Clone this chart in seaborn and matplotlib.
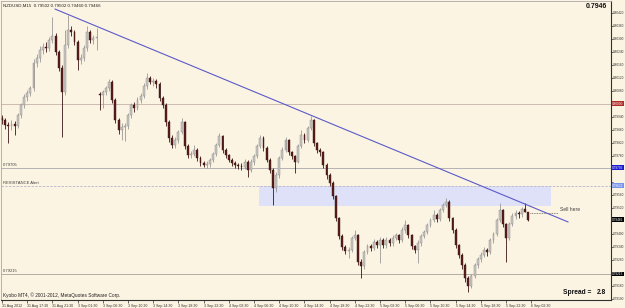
import matplotlib
matplotlib.use("Agg")
import matplotlib.pyplot as plt
import matplotlib.transforms as mtransforms
from matplotlib.patches import Rectangle
import numpy as np
import pandas as pd
import seaborn as sns

# ---------------- data ----------------
chart_title = "NZDUSD,M15  0.79502 0.79502 0.79460 0.79466"
copyright_text = "Kyobo MT4, \u00a9 2001-2012, MetaQuotes Software Corp."
bid_text = "0.7946"

open_ = [0.79935, 0.79926, 0.79902, 0.79898, 0.79907, 0.79900, 0.79949, 0.79995, 0.80032, 0.80050,
         0.80073, 0.80189, 0.80212, 0.80249, 0.80263, 0.80258, 0.80295, 0.80314, 0.80240, 0.80166,
         0.80055, 0.80272, 0.80341, 0.80330, 0.80286, 0.80203, 0.80212, 0.80258, 0.80332, 0.80295,
         0.80304, 0.80045, 0.80041, 0.80055, 0.80073, 0.80101, 0.80018, 0.79926, 0.79879, 0.79893,
         0.79898, 0.79949, 0.79995, 0.79981, 0.80018, 0.80036, 0.80083, 0.80120, 0.80101, 0.80105,
         0.80092, 0.80027, 0.79995, 0.79916, 0.79842, 0.79810, 0.79833, 0.79870, 0.79916, 0.79805,
         0.79764, 0.79770, 0.79787, 0.79750, 0.79727, 0.79718, 0.79722, 0.79741, 0.79769, 0.79810,
         0.79852, 0.79787, 0.79764, 0.79741, 0.79727, 0.79718, 0.79713, 0.79708, 0.79732, 0.79695,
         0.79732, 0.79759, 0.79805, 0.79842, 0.79796, 0.79741, 0.79695, 0.79611, 0.79671, 0.79750,
         0.79787, 0.79833, 0.79778, 0.79759, 0.79732, 0.79805, 0.79856, 0.79833, 0.79889, 0.79926,
         0.79819, 0.79787, 0.79778, 0.79718, 0.79671, 0.79635, 0.79574, 0.79473, 0.79390, 0.79339,
         0.79320, 0.79325, 0.79380, 0.79394, 0.79270, 0.79251, 0.79316, 0.79343, 0.79334, 0.79362,
         0.79348, 0.79371, 0.79348, 0.79371, 0.79357, 0.79380, 0.79394, 0.79371, 0.79417, 0.79440,
         0.79394, 0.79343, 0.79325, 0.79357, 0.79390, 0.79408, 0.79440, 0.79464, 0.79487, 0.79468,
         0.79510, 0.79533, 0.79547, 0.79473, 0.79417, 0.79348, 0.79302, 0.79256, 0.79196, 0.79159,
         0.79205, 0.79256, 0.79283, 0.79302, 0.79325, 0.79316, 0.79371, 0.79399, 0.79464, 0.79510,
         0.79445, 0.79380, 0.79445, 0.79482, 0.79496, 0.79491, 0.79514, 0.79502]

close = [0.79926, 0.79902, 0.79898, 0.79907, 0.79900, 0.79949, 0.79995, 0.80032, 0.80050, 0.80073,
         0.80189, 0.80212, 0.80249, 0.80263, 0.80258, 0.80295, 0.80314, 0.80240, 0.80166, 0.80055,
         0.80272, 0.80341, 0.80330, 0.80286, 0.80203, 0.80212, 0.80258, 0.80332, 0.80295, 0.80304,
         0.80310, 0.80041, 0.80055, 0.80073, 0.80101, 0.80018, 0.79926, 0.79879, 0.79893, 0.79898,
         0.79949, 0.79995, 0.79981, 0.80018, 0.80036, 0.80083, 0.80120, 0.80101, 0.80105, 0.80092,
         0.80027, 0.79995, 0.79916, 0.79842, 0.79810, 0.79833, 0.79870, 0.79916, 0.79805, 0.79764,
         0.79770, 0.79787, 0.79750, 0.79727, 0.79718, 0.79722, 0.79741, 0.79769, 0.79810, 0.79852,
         0.79787, 0.79764, 0.79741, 0.79727, 0.79718, 0.79713, 0.79708, 0.79732, 0.79695, 0.79732,
         0.79759, 0.79805, 0.79842, 0.79796, 0.79741, 0.79695, 0.79611, 0.79671, 0.79750, 0.79787,
         0.79833, 0.79778, 0.79759, 0.79732, 0.79805, 0.79856, 0.79833, 0.79889, 0.79926, 0.79819,
         0.79787, 0.79778, 0.79718, 0.79671, 0.79635, 0.79574, 0.79473, 0.79390, 0.79339, 0.79320,
         0.79325, 0.79380, 0.79394, 0.79270, 0.79251, 0.79316, 0.79343, 0.79334, 0.79362, 0.79348,
         0.79371, 0.79348, 0.79371, 0.79357, 0.79380, 0.79394, 0.79371, 0.79417, 0.79440, 0.79394,
         0.79343, 0.79325, 0.79357, 0.79390, 0.79408, 0.79440, 0.79464, 0.79487, 0.79468, 0.79510,
         0.79533, 0.79547, 0.79473, 0.79417, 0.79348, 0.79302, 0.79256, 0.79196, 0.79159, 0.79205,
         0.79256, 0.79283, 0.79302, 0.79325, 0.79316, 0.79371, 0.79399, 0.79464, 0.79510, 0.79445,
         0.79380, 0.79445, 0.79482, 0.79496, 0.79491, 0.79514, 0.79502, 0.79466]

high = [0.79950, 0.79935, 0.79915, 0.79925, 0.79920, 0.79960, 0.80005, 0.80045, 0.80065, 0.80085,
        0.80205, 0.80230, 0.80265, 0.80280, 0.80285, 0.80310, 0.80401, 0.80325, 0.80250, 0.80180,
        0.80341, 0.80411, 0.80360, 0.80340, 0.80295, 0.80230, 0.80270, 0.80360, 0.80340, 0.80320,
        0.80351, 0.80055, 0.80065, 0.80085, 0.80115, 0.80110, 0.80025, 0.79935, 0.79910, 0.79910,
        0.79960, 0.80005, 0.80010, 0.80030, 0.80050, 0.80095, 0.80143, 0.80130, 0.80120, 0.80115,
        0.80100, 0.80035, 0.80005, 0.79925, 0.79855, 0.79845, 0.79880, 0.79935, 0.79920, 0.79815,
        0.79785, 0.79810, 0.79795, 0.79760, 0.79738, 0.79735, 0.79750, 0.79780, 0.79820, 0.79866,
        0.79858, 0.79795, 0.79770, 0.79750, 0.79735, 0.79728, 0.79725, 0.79745, 0.79740, 0.79745,
        0.79770, 0.79815, 0.79856, 0.79850, 0.79805, 0.79750, 0.79705, 0.79685, 0.79760, 0.79800,
        0.79847, 0.79840, 0.79785, 0.79765, 0.79815, 0.79879, 0.79865, 0.79900, 0.79944, 0.79930,
        0.79825, 0.79795, 0.79785, 0.79725, 0.79680, 0.79645, 0.79580, 0.79480, 0.79400, 0.79350,
        0.79340, 0.79390, 0.79417, 0.79400, 0.79285, 0.79325, 0.79355, 0.79355, 0.79375, 0.79370,
        0.79385, 0.79380, 0.79385, 0.79380, 0.79395, 0.79405, 0.79400, 0.79430, 0.79464, 0.79445,
        0.79400, 0.79350, 0.79370, 0.79400, 0.79420, 0.79450, 0.79475, 0.79510, 0.79495, 0.79520,
        0.79545, 0.79565, 0.79555, 0.79480, 0.79425, 0.79355, 0.79310, 0.79265, 0.79205, 0.79215,
        0.79265, 0.79295, 0.79315, 0.79340, 0.79335, 0.79380, 0.79410, 0.79475, 0.79542, 0.79515,
        0.79450, 0.79455, 0.79495, 0.79510, 0.79505, 0.79525, 0.79542, 0.79502]

low = [0.79905, 0.79885, 0.79820, 0.79880, 0.79856, 0.79890, 0.79935, 0.79980, 0.80015, 0.80035,
       0.80060, 0.80170, 0.80195, 0.80230, 0.80240, 0.80245, 0.80280, 0.80225, 0.80150, 0.79847,
       0.80040, 0.80260, 0.80315, 0.80270, 0.80157, 0.80185, 0.80200, 0.80245, 0.80280, 0.80275,
       0.80249, 0.79972, 0.79981, 0.80040, 0.80060, 0.80005, 0.79910, 0.79860, 0.79833, 0.79829,
       0.79885, 0.79935, 0.79965, 0.79970, 0.80005, 0.80025, 0.80070, 0.80090, 0.80085, 0.80075,
       0.80015, 0.79980, 0.79900, 0.79825, 0.79795, 0.79798, 0.79820, 0.79860, 0.79790, 0.79750,
       0.79750, 0.79760, 0.79735, 0.79715, 0.79708, 0.79705, 0.79710, 0.79730, 0.79760, 0.79800,
       0.79775, 0.79750, 0.79730, 0.79715, 0.79705, 0.79700, 0.79695, 0.79700, 0.79662, 0.79685,
       0.79720, 0.79750, 0.79795, 0.79785, 0.79730, 0.79680, 0.79533, 0.79595, 0.79660, 0.79740,
       0.79780, 0.79765, 0.79745, 0.79681, 0.79725, 0.79795, 0.79820, 0.79825, 0.79880, 0.79805,
       0.79775, 0.79760, 0.79705, 0.79655, 0.79620, 0.79560, 0.79460, 0.79375, 0.79325, 0.79305,
       0.79288, 0.79315, 0.79370, 0.79255, 0.79196, 0.79240, 0.79305, 0.79320, 0.79325, 0.79335,
       0.79265, 0.79335, 0.79335, 0.79345, 0.79345, 0.79370, 0.79360, 0.79365, 0.79405, 0.79380,
       0.79330, 0.79310, 0.79265, 0.79345, 0.79380, 0.79400, 0.79430, 0.79455, 0.79455, 0.79460,
       0.79500, 0.79525, 0.79460, 0.79405, 0.79335, 0.79290, 0.79240, 0.79180, 0.79131, 0.79150,
       0.79195, 0.79245, 0.79270, 0.79295, 0.79300, 0.79305, 0.79360, 0.79390, 0.79455, 0.79430,
       0.79270, 0.79370, 0.79435, 0.79470, 0.79475, 0.79480, 0.79500, 0.79460]

time_labels = ["31 Aug 2012", "31 Aug 17:30", "31 Aug 21:30", "3 Sep 01:30", "3 Sep 06:30",
               "3 Sep 10:30", "3 Sep 14:30", "3 Sep 18:30", "3 Sep 22:30", "4 Sep 02:30",
               "4 Sep 06:30", "4 Sep 10:30", "4 Sep 14:30", "4 Sep 18:30", "4 Sep 22:30",
               "5 Sep 02:30", "5 Sep 06:30", "5 Sep 10:30", "5 Sep 14:30", "5 Sep 18:30",
               "5 Sep 22:30", "6 Sep 02:30"]
bars_per_label = 8

price_ticks = [0.80420, 0.80360, 0.80300, 0.80240, 0.80180, 0.80120, 0.80060, 0.80000,
               0.79940, 0.79880, 0.79820, 0.79760, 0.79700, 0.79640, 0.79580, 0.79520,
               0.79460, 0.79400, 0.79340, 0.79280, 0.79220, 0.79160, 0.79100]

trend_bar = [16.8, 179.7]
trend_price = [0.80438, 0.79455]

level_prices = [0.80000, 0.79705, 0.79622, 0.79215]
level_names = ["", "0.79705", "RESISTANCE Alert", "0.79215"]

zone_bars = [81.6, 174.3]
zone_prices = [0.79529, 0.79622]

sell_bars = [167.6, 176.5]
sell_price = 0.79497
sell_text = "Sell here"
current_price = 0.79466
spread_value = 2.8

# ---------------- style ----------------
sns.set_style("white")
plt.rcParams["font.family"] = ["Liberation Sans", "DejaVu Sans"]
BG = "#fcf4e2"
W, H = 625, 308
SMALL = 2.6
AXIS_FS = 2.25

fig = plt.figure(figsize=(W / 100, H / 100), dpi=100, facecolor=BG)
ax = fig.add_axes([1 / W, 8 / H, 610 / W, 299 / H])
ax.set_facecolor(BG)

df = pd.DataFrame({"o": open_, "h": high, "l": low, "c": close})
df["bar"] = np.arange(len(df))
df["up"] = df["c"] >= df["o"]

# resistance zone
ax.add_patch(Rectangle((zone_bars[0], zone_prices[0]), zone_bars[1] - zone_bars[0],
                       zone_prices[1] - zone_prices[0], facecolor="#dfe1f8",
                       edgecolor="none", zorder=0.5))

# horizontal levels
level_styles = [("#8c6f6f", (0, (1.2, 1.2))), ("#5a5a7a", (0, (1.2, 1.2))),
                ("#b8b8cc", (0, (3, 1.5))), ("#505050", (0, (1.2, 1.2)))]
for p, name, (col, ls) in zip(level_prices, level_names, level_styles):
    ax.axhline(p, color=col, lw=0.6, ls=ls, zorder=0.8)
    if name:
        ax.text(0.3, p + 0.00005, name, fontsize=3.0, color="#404040",
                ha="left", va="bottom", zorder=3)

# candles
ups = df[df["up"]]
dns = df[~df["up"]]
ax.vlines(ups["bar"], ups["l"], ups["h"], colors="#9a9a9a", lw=0.6, zorder=2)
ax.vlines(dns["bar"], dns["l"], dns["h"], colors="#3a1414", lw=0.6, zorder=2)
min_body = 0.000015
ax.bar(ups["bar"], np.maximum(ups["c"] - ups["o"], min_body), bottom=ups["o"], width=0.6,
       color="#c9c6c2", edgecolor="#8a8a8a", linewidth=0.3, zorder=2.2)
ax.bar(dns["bar"], np.maximum(dns["o"] - dns["c"], min_body), bottom=dns["c"], width=0.6,
       color="#5a1c1c", edgecolor="#3a1414", linewidth=0.3, zorder=2.2)

# trend line
sns.lineplot(x=trend_bar, y=trend_price, ax=ax, color="#5a5ac8", lw=0.8, zorder=2.5)

# sell here
ax.hlines(sell_price, sell_bars[0], sell_bars[1], colors="#606060", lw=0.6,
          linestyles=(0, (1, 1)), zorder=3)
ax.text(sell_bars[1] + 0.6, sell_price + 0.00002, sell_text, fontsize=3.6, color="#404040",
        ha="left", va="bottom", zorder=3)

# tag prices on the price axis
tags = [(level_prices[0], "#b02a2a"), (level_prices[1], "#1a1ad0"),
        (level_prices[2], "#7a94ee"), (current_price, "#000000"), (level_prices[3], "#000000")]
tag_prices = [t[0] for t in tags]
shown_ticks = [v for v in price_ticks if min(abs(v - tp) for tp in tag_prices) > 0.00022]

# axes limits and ticks
ax.set_xlim(-0.32, 193.3)
ax.set_ylim(0.79095, 0.80475)
ax.yaxis.tick_right()
ax.set_yticks(price_ticks)
ax.set_yticklabels([f"{v:.5f}" if v in shown_ticks else "" for v in price_ticks])
ax.set_xticks([k * bars_per_label for k in range(len(time_labels))])
ax.set_xticklabels(time_labels)
ax.tick_params(axis="x", which="major", labelsize=SMALL, length=2, width=0.5,
               colors="#303030", pad=0.8, direction="out", bottom=True)
ax.tick_params(axis="y", which="major", labelsize=AXIS_FS, length=1.2, width=0.5,
               colors="#303030", pad=0.3, direction="out", right=True, left=False)
for lab in ax.get_xticklabels():
    lab.set_ha("left")
for side in ["right", "bottom"]:
    ax.spines[side].set_color("#303030")
    ax.spines[side].set_linewidth(0.8)
for side in ["top", "left"]:
    ax.spines[side].set_color("#a8a8a8")
    ax.spines[side].set_linewidth(0.6)
ax.grid(False)

trans = mtransforms.blended_transform_factory(ax.transAxes, ax.transData)
for p, bg in tags:
    ax.text(1.0022, p, f"{p:.5f}", transform=trans, fontsize=AXIS_FS, color="white",
            ha="left", va="center", clip_on=False, zorder=10,
            bbox=dict(boxstyle="square,pad=0.15", fc=bg, ec="none"))

# header / footer texts
fig.text(3 / W, 1 - 6 / H, chart_title, fontsize=3.2, color="#202020", ha="left", va="center")
fig.text(607 / W, 1 - 6 / H, bid_text, fontsize=5, fontweight="bold",
         color="#101010", ha="right", va="center")
fig.text(3 / W, 1 - 295 / H, copyright_text, fontsize=3.4, color="#202020", ha="left", va="center")
fig.text(563 / W, 1 - 292 / H, "Spread =", fontsize=4.8, fontweight="bold", color="#101010",
         ha="left", va="center")
fig.text(606 / W, 1 - 292 / H, f"{spread_value:.1f}", fontsize=4.8, fontweight="bold",
         color="#101010", ha="right", va="center")

fig.savefig("out.png", dpi=100, facecolor=BG)
